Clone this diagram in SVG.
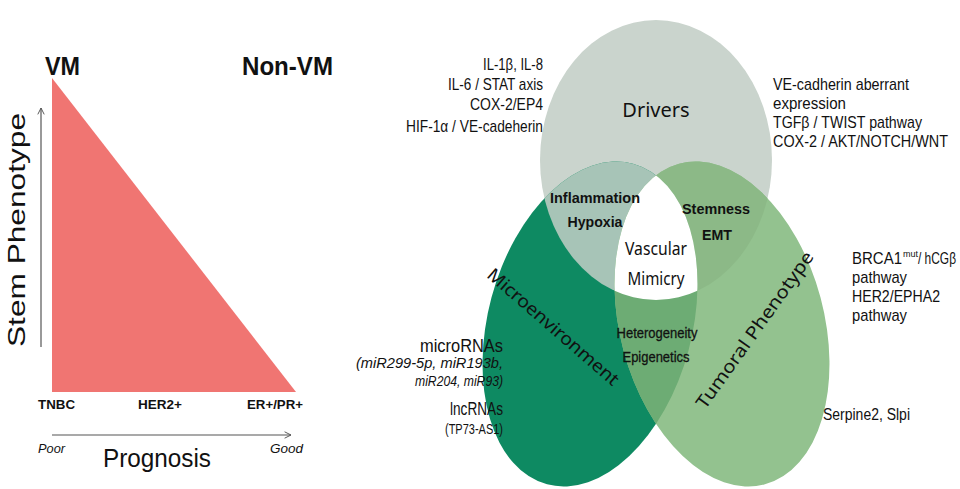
<svg xmlns="http://www.w3.org/2000/svg" width="960" height="489" viewBox="0 0 960 489">
<defs>
<style>
.t{font-family:"Liberation Sans",Arial,sans-serif;fill:#111}
.b{font-weight:bold}
.r{text-anchor:end}
.m{text-anchor:middle}
.q{font-family:"Noto Sans","Liberation Sans",sans-serif;fill:#111}
.h{stroke:#111;stroke-width:0.3}
.ax{stroke:#555;stroke-width:1.2;fill:none}
</style>
<marker id="ah" viewBox="0 0 10 10" refX="9" refY="5" markerWidth="8" markerHeight="8" orient="auto" markerUnits="userSpaceOnUse">
<path d="M1,1 L9,5 L1,9" fill="none" stroke="#555" stroke-width="1.2"/>
</marker>
<ellipse id="eD" cx="656" cy="160" rx="116" ry="140"/>
<ellipse id="eM" cx="590" cy="324" rx="102" ry="166" transform="rotate(15 590 324)"/>
<ellipse id="eT" cx="722" cy="324" rx="102" ry="166" transform="rotate(-15 722 324)"/>
<clipPath id="cD"><use href="#eD"/></clipPath>
<clipPath id="cM"><use href="#eM"/></clipPath>
<clipPath id="cT"><use href="#eT"/></clipPath>
</defs>
<rect width="960" height="489" fill="#fff"/>

<g id="triangle-chart">
<polygon points="52,78 52,392 296,392" fill="#f07572"/>
<text class="t b" x="45" y="75" font-size="25" textLength="35" lengthAdjust="spacingAndGlyphs">VM</text>
<text class="t b" x="242" y="75" font-size="25" textLength="91" lengthAdjust="spacingAndGlyphs">Non-VM</text>
<text class="t" x="0" y="0" font-size="24" transform="translate(25,347) rotate(-90)" textLength="234" lengthAdjust="spacingAndGlyphs">Stem Phenotype</text>
<text class="t b" x="38" y="409" font-size="13" textLength="37" lengthAdjust="spacingAndGlyphs">TNBC</text>
<text class="t b" x="138" y="409" font-size="13" textLength="44" lengthAdjust="spacingAndGlyphs">HER2+</text>
<text class="t b" x="247" y="409" font-size="13" textLength="56" lengthAdjust="spacingAndGlyphs">ER+/PR+</text>
<text class="t" x="38" y="453" font-size="13.5" font-style="italic" textLength="27" lengthAdjust="spacingAndGlyphs">Poor</text>
<text class="t" x="270" y="453" font-size="13.5" font-style="italic" textLength="33" lengthAdjust="spacingAndGlyphs">Good</text>
<text class="t" x="103" y="467" font-size="25" textLength="108" lengthAdjust="spacingAndGlyphs">Prognosis</text>
</g>

<g id="axes">
<line class="ax" x1="41" y1="347" x2="41" y2="108" marker-end="url(#ah)"/>
<line class="ax" x1="52" y1="435" x2="291" y2="435" marker-end="url(#ah)"/>
</g>

<g id="venn">
<g id="drivers"><use href="#eD" fill="#cad4cd"/></g>
<g id="microenvironment"><use href="#eM" fill="#0e8a62"/></g>
<g id="tumoral"><use href="#eT" fill="#93c28f"/></g>
<g id="drivers-micro" clip-path="url(#cD)"><use href="#eM" fill="#a7c4b7"/></g>
<g id="drivers-tumoral" clip-path="url(#cD)"><use href="#eT" fill="#8cb987"/></g>
<g id="micro-tumoral" clip-path="url(#cM)"><use href="#eT" fill="#6dac74"/></g>
<g id="center" clip-path="url(#cM)"><g clip-path="url(#cT)"><use href="#eD" fill="#ffffff"/></g></g>
</g>

<g id="venn-labels">
<text class="q m" x="656" y="117" font-size="20">Drivers</text>
<text class="t b m" x="595" y="203" font-size="15.5" textLength="90" lengthAdjust="spacingAndGlyphs">Inflammation</text>
<text class="t b m" x="595" y="227" font-size="15.5" textLength="55" lengthAdjust="spacingAndGlyphs">Hypoxia</text>
<text class="t b m" x="716" y="214" font-size="15.5" textLength="68" lengthAdjust="spacingAndGlyphs">Stemness</text>
<text class="t b m" x="717" y="240" font-size="15.5" textLength="30" lengthAdjust="spacingAndGlyphs">EMT</text>
<text class="q m" x="656" y="255" font-size="18" textLength="62" lengthAdjust="spacingAndGlyphs">Vascular</text>
<text class="q m" x="656" y="285" font-size="18" textLength="57" lengthAdjust="spacingAndGlyphs">Mimicry</text>
<text class="t m h" x="657" y="338" font-size="15.5" textLength="81" lengthAdjust="spacingAndGlyphs">Heterogeneity</text>
<text class="t m h" x="656" y="362" font-size="15.5" textLength="67" lengthAdjust="spacingAndGlyphs">Epigenetics</text>
<text class="q m" x="0" y="6" font-size="18" transform="translate(553,327) rotate(41)" textLength="168" lengthAdjust="spacingAndGlyphs">Microenvironment</text>
<text class="q m" x="0" y="6" font-size="18" transform="translate(755,330) rotate(-54.5)" textLength="188" lengthAdjust="spacingAndGlyphs">Tumoral Phenotype</text>
</g>

<g id="notes-drivers-left">
<text class="t r" x="543" y="70" font-size="17" textLength="60" lengthAdjust="spacingAndGlyphs">IL-1β, IL-8</text>
<text class="t r" x="543" y="90" font-size="17" textLength="95" lengthAdjust="spacingAndGlyphs">IL-6 / STAT axis</text>
<text class="t r" x="543" y="110" font-size="17" textLength="73" lengthAdjust="spacingAndGlyphs">COX-2/EP4</text>
<text class="t r" x="543" y="132" font-size="17" textLength="137" lengthAdjust="spacingAndGlyphs">HIF-1α / VE-cadeherin</text>
</g>
<g id="notes-drivers-right">
<text class="t" x="773" y="90" font-size="17" textLength="136" lengthAdjust="spacingAndGlyphs">VE-cadherin aberrant</text>
<text class="t" x="773" y="109" font-size="17" textLength="73" lengthAdjust="spacingAndGlyphs">expression</text>
<text class="t" x="773" y="128" font-size="17" textLength="149" lengthAdjust="spacingAndGlyphs">TGFβ / TWIST pathway</text>
<text class="t" x="773" y="147" font-size="17" textLength="175" lengthAdjust="spacingAndGlyphs">COX-2 / AKT/NOTCH/WNT</text>
</g>
<g id="notes-micro">
<text class="t r" x="503" y="352" font-size="19" textLength="83" lengthAdjust="spacingAndGlyphs">microRNAs</text>
<text class="t r" x="503" y="368" font-size="14" font-style="italic" textLength="147" lengthAdjust="spacingAndGlyphs">(miR299-5p, miR193b,</text>
<text class="t r" x="503" y="386" font-size="14" font-style="italic" textLength="88" lengthAdjust="spacingAndGlyphs">miR204, miR93)</text>
<text class="t r" x="503" y="415" font-size="19" textLength="53" lengthAdjust="spacingAndGlyphs">lncRNAs</text>
<text class="t r" x="503" y="434" font-size="14" textLength="58" lengthAdjust="spacingAndGlyphs">(TP73-AS1)</text>
</g>
<g id="notes-tumoral">
<text class="t" x="852" y="264" font-size="16.5" textLength="50" lengthAdjust="spacingAndGlyphs">BRCA1</text>
<text class="t" x="903" y="257" font-size="9" textLength="15" lengthAdjust="spacingAndGlyphs">mut</text>
<text class="t" x="918" y="264" font-size="16.5" textLength="38" lengthAdjust="spacingAndGlyphs">/ hCGβ</text>
<text class="t" x="852" y="283" font-size="17" textLength="55" lengthAdjust="spacingAndGlyphs">pathway</text>
<text class="t" x="852" y="302" font-size="17" textLength="88" lengthAdjust="spacingAndGlyphs">HER2/EPHA2</text>
<text class="t" x="852" y="321" font-size="17" textLength="55" lengthAdjust="spacingAndGlyphs">pathway</text>
<text class="t" x="823" y="420" font-size="16" textLength="87" lengthAdjust="spacingAndGlyphs">Serpine2, Slpi</text>
</g>
</svg>
